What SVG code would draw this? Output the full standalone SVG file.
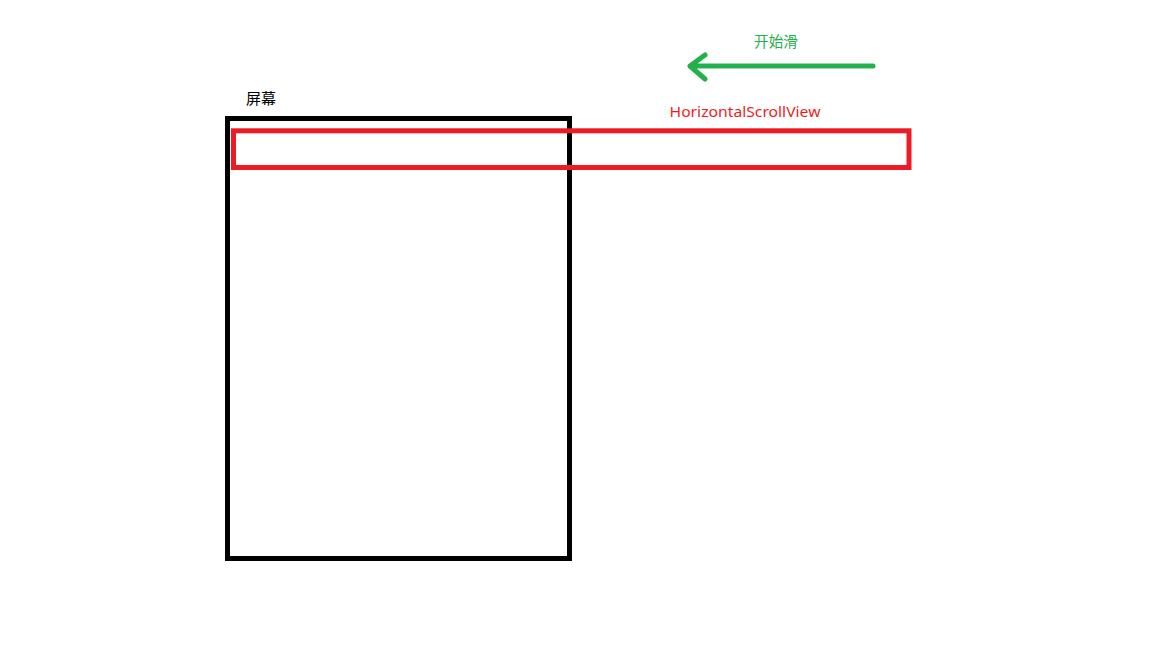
<svg xmlns="http://www.w3.org/2000/svg" width="1152" height="648" viewBox="0 0 1152 648">
<style>
.lbl{font-family:"Noto Sans","Noto Sans CJK SC",sans-serif;font-size:15px}
</style>
<rect width="1152" height="648" fill="#ffffff"/>
<g id="screen">
<rect x="227.5" y="118.5" width="342" height="440" fill="none" stroke="#000000" stroke-width="5"/>
<text class="lbl" x="246" y="104" fill="#000000" textLength="30" lengthAdjust="spacingAndGlyphs">屏幕</text>
</g>
<g id="hsv">
<rect x="233.5" y="130.8" width="675.5" height="36.7" fill="none" stroke="#ED1C24" stroke-width="5"/>
<text class="lbl" x="669.5" y="116.5" fill="#ED1C24" textLength="151" lengthAdjust="spacingAndGlyphs">HorizontalScrollView</text>
</g>
<g id="connectors">
<path d="M873 66 L690 66 M705 55 L690 66 L705 79" fill="none" stroke="#22B14C" stroke-width="5" stroke-linecap="round" stroke-linejoin="round"/>
<text class="lbl" x="754" y="46.5" fill="#22B14C" textLength="44" lengthAdjust="spacingAndGlyphs">开始滑</text>
</g>
</svg>
